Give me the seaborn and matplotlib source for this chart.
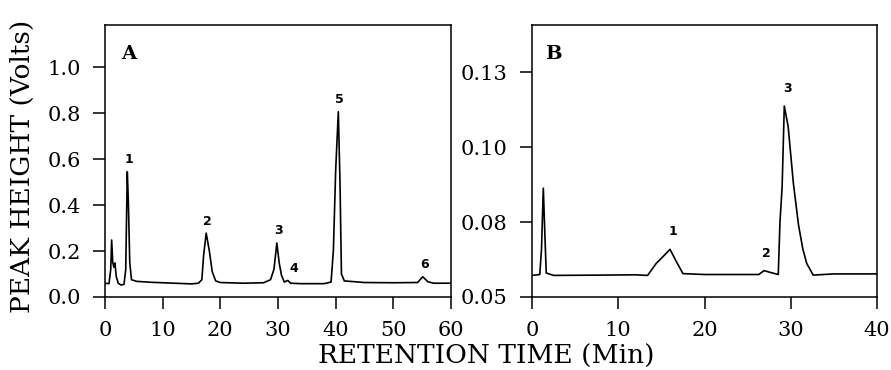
import pandas as pd
import matplotlib.pyplot as plt
import seaborn as sns

# ---- Panel A chromatogram (retention time in min, peak height in volts) ----
time_a = [0.0, 0.7, 1.0, 1.16, 1.35, 1.55, 1.73, 1.95, 2.3, 2.8, 3.3, 3.6, 3.87, 4.05,
          4.3, 4.6, 5.5, 8.0, 12.0, 15.0, 16.2, 16.8, 17.1, 17.55, 18.1, 18.6, 19.2, 20.0,
          24.0, 27.5, 28.7, 29.3, 29.8, 30.2, 30.6, 31.1, 31.7, 32.2, 34.0, 38.0, 39.2,
          39.6, 40.0, 40.46, 40.75, 41.0, 41.5, 45.0, 50.0, 54.2, 55.1, 56.0, 57.0, 60.0]
height_a = [0.060, 0.058, 0.12, 0.248, 0.15, 0.13, 0.148, 0.09, 0.06, 0.052, 0.055, 0.12,
            0.545, 0.42, 0.15, 0.075, 0.068, 0.064, 0.060, 0.057, 0.060, 0.075, 0.18, 0.278,
            0.20, 0.11, 0.07, 0.063, 0.060, 0.062, 0.075, 0.12, 0.235, 0.15, 0.095, 0.065,
            0.072, 0.060, 0.058, 0.058, 0.065, 0.20, 0.55, 0.806, 0.50, 0.10, 0.07, 0.063,
            0.062, 0.063, 0.088, 0.066, 0.060, 0.060]
peaks_a = ['1', '2', '3', '4', '5', '6']
peak_time_a = [3.87, 17.55, 29.8, 31.7, 40.46, 55.1]
peak_height_a = [0.545, 0.278, 0.235, 0.072, 0.806, 0.088]

# ---- Panel B chromatogram ----
time_b = [0.0, 0.9, 1.1, 1.31, 1.5, 1.65, 2.5, 8.0, 12.0, 13.4, 14.4, 15.2, 16.0, 16.7,
          17.5, 20.0, 26.3, 26.9, 27.5, 28.55, 28.75, 29.0, 29.25, 29.7, 30.3, 30.9, 31.4,
          31.85, 32.6, 35.0, 40.0]
height_b = [0.0572, 0.0575, 0.066, 0.0863, 0.070, 0.058, 0.0572, 0.0573, 0.0574, 0.0572,
            0.0612, 0.0635, 0.0659, 0.062, 0.0578, 0.0575, 0.0575, 0.0588, 0.0583, 0.0575,
            0.075, 0.0868, 0.1137, 0.1068, 0.088, 0.074, 0.066, 0.0612, 0.0573, 0.0577,
            0.0577]
peaks_b = ['1', '2', '3']
peak_time_b = [16.0, 26.9, 29.25]
peak_height_b = [0.0659, 0.0588, 0.1137]

xticks_a = [0, 10, 20, 30, 40, 50, 60]
yticks_a = [0.0, 0.2, 0.4, 0.6, 0.8, 1.0]
ytick_labels_a = ['0.0', '0.2', '0.4', '0.6', '0.8', '1.0']
xticks_b = [0, 10, 20, 30, 40]
yticks_b = [0.05, 0.075, 0.10, 0.125]
ytick_labels_b = ['0.05', '0.08', '0.10', '0.13']

df_a = pd.DataFrame({'time': time_a, 'height': height_a})
df_b = pd.DataFrame({'time': time_b, 'height': height_b})

sns.set_style('ticks')
plt.rcParams['font.family'] = ['DejaVu Serif']
plt.rcParams['text.color'] = 'black'
plt.rcParams['axes.labelcolor'] = 'black'
plt.rcParams['axes.linewidth'] = 1.1
plt.rcParams['xtick.major.width'] = 1.1
plt.rcParams['ytick.major.width'] = 1.1
plt.rcParams['xtick.labelsize'] = 15
plt.rcParams['ytick.labelsize'] = 15
plt.rcParams['xtick.major.size'] = 8.5
plt.rcParams['ytick.major.size'] = 8.5
plt.rcParams['xtick.major.pad'] = 9
plt.rcParams['ytick.major.pad'] = 9
plt.rcParams['xtick.color'] = 'black'
plt.rcParams['ytick.color'] = 'black'

fig = plt.figure(figsize=(8.91, 3.70), dpi=100)
ax_a = fig.add_axes([0.1178, 0.1973, 0.3884, 0.735])
ax_b = fig.add_axes([0.5971, 0.1973, 0.3872, 0.735])

sns.lineplot(data=df_a, x='time', y='height', ax=ax_a, color='black', lw=1.2,
             estimator=None, sort=False)
sns.lineplot(data=df_b, x='time', y='height', ax=ax_b, color='black', lw=1.2,
             estimator=None, sort=False)

ax_a.set_xlim(0, 60)
ax_a.set_ylim(0, 1.183)
ax_b.set_xlim(0, 40)
ax_b.set_ylim(0.05, 0.1407)

for ax, xt, yt, ytl in [(ax_a, xticks_a, yticks_a, ytick_labels_a),
                        (ax_b, xticks_b, yticks_b, ytick_labels_b)]:
    ax.set_xticks(xt)
    ax.set_xticklabels([str(v) for v in xt])
    ax.set_yticks(yt)
    ax.set_yticklabels(ytl)
    ax.set_xlabel('')
    ax.set_ylabel('')
    for s in ax.spines.values():
        s.set_visible(True)
        s.set_color('black')

# peak numbers
for lab, t, h in zip(peaks_a, peak_time_a, peak_height_a):
    dx = 4 if lab == '4' else 1
    ax_a.annotate(lab, (t, h), xytext=(dx, 4), textcoords='offset points',
                  ha='center', va='bottom', fontsize=9, fontweight='bold',
                  family='DejaVu Sans')
for lab, t, h in zip(peaks_b, peak_time_b, peak_height_b):
    ax_b.annotate(lab, (t, h), xytext=(2, 8), textcoords='offset points',
                  ha='center', va='bottom', fontsize=9, fontweight='bold',
                  family='DejaVu Sans')

ax_a.text(0.068, 0.895, 'A', transform=ax_a.transAxes, fontsize=14,
          fontweight='bold', ha='center', va='center')
ax_b.text(0.062, 0.895, 'B', transform=ax_b.transAxes, fontsize=14,
          fontweight='bold', ha='center', va='center')

fig.text(0.025, 0.55, 'PEAK HEIGHT (Volts)', rotation=90, ha='center',
         va='center', fontsize=19)
fig.text(0.546, 0.038, 'RETENTION TIME (Min)', ha='center', va='center',
         fontsize=19)

fig.savefig('out.png', dpi=100)
